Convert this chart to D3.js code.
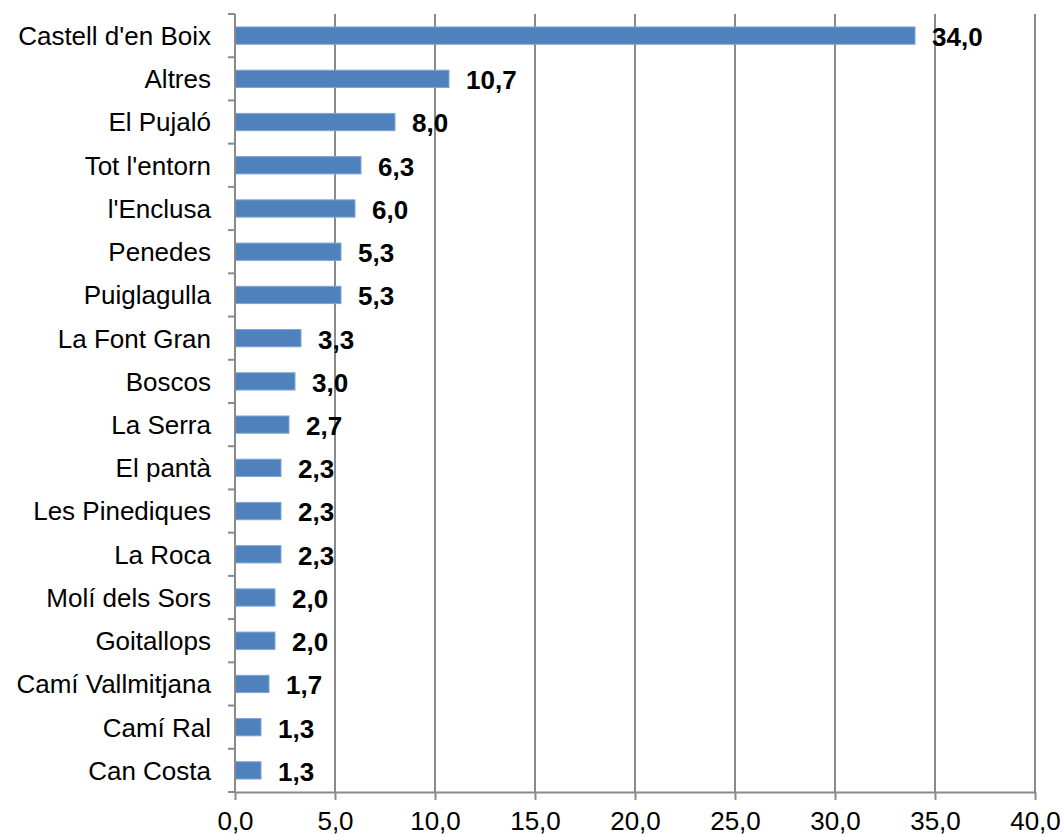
<!DOCTYPE html>
<html>
<head>
<meta charset="utf-8">
<script src="https://cdn.jsdelivr.net/npm/d3@7"></script>
<style>
  html, body { margin: 0; padding: 0; background: #fff; }
  svg { display: block; }
</style>
</head>
<body>
<script>
const categories = ["Castell d'en Boix", "Altres", "El Pujaló", "Tot l'entorn", "l'Enclusa", "Penedes", "Puiglagulla", "La Font Gran", "Boscos", "La Serra", "El pantà", "Les Pinediques", "La Roca", "Molí dels Sors", "Goitallops", "Camí Vallmitjana", "Camí Ral", "Can Costa"];
const values = [34.0, 10.7, 8.0, 6.3, 6.0, 5.3, 5.3, 3.3, 3.0, 2.7, 2.3, 2.3, 2.3, 2.0, 2.0, 1.7, 1.3, 1.3];
const xTicks = [0, 5, 10, 15, 20, 25, 30, 35, 40];

(function () {
const W = 1064, H = 836;
const pLeft = 235, pRight = 1035, pTop = 14, pBottom = 792;
const fmt = v => v.toFixed(1).replace(".", ",");
const font = "Arial, 'Liberation Sans', sans-serif";
const fs = 26;
const gray = "#8a8a8a";

const svg = d3.select("body").append("svg").attr("width", W).attr("height", H);

const x = d3.scaleLinear().domain([0, 40]).range([pLeft, pRight]);
const y = d3.scaleBand().domain(categories).range([pTop, pBottom]).paddingInner(0.6).paddingOuter(0.3);
const yb = d3.scaleBand().domain(categories).range([pTop, pBottom]).padding(0);

// gridlines
svg.append("g").selectAll("line").data(xTicks.slice(1)).join("line")
  .attr("x1", d => x(d)).attr("x2", d => x(d))
  .attr("y1", pTop).attr("y2", pBottom)
  .attr("stroke", gray).attr("stroke-width", 2);

// bars
svg.append("g").selectAll("rect").data(values).join("rect")
  .attr("x", x(0))
  .attr("y", (d, i) => y(categories[i]))
  .attr("width", d => x(d) - x(0))
  .attr("height", y.bandwidth())
  .attr("fill", "#4f81bd")
  .attr("stroke", "#7fa6d6").attr("stroke-width", 1);

// x axis
const xAxis = d3.axisBottom(x).tickValues(xTicks).tickFormat(fmt).tickSizeInner(8).tickSizeOuter(0);
const gx = svg.append("g").attr("transform", `translate(0,${pBottom})`).call(xAxis);
gx.select(".domain").attr("stroke", gray).attr("stroke-width", 2);
gx.selectAll(".tick line").attr("stroke", gray).attr("stroke-width", 2);
gx.selectAll(".tick text").attr("font-family", font).attr("font-size", fs).attr("fill", "#000").attr("dy", 0).attr("y", 38);

// y axis line
svg.append("line").attr("x1", pLeft).attr("x2", pLeft).attr("y1", pTop).attr("y2", pBottom)
  .attr("stroke", gray).attr("stroke-width", 2);
// y ticks at band boundaries
const boundaries = categories.map(c => yb(c)).concat([pBottom]);
svg.append("g").selectAll("line").data(boundaries).join("line")
  .attr("x1", pLeft - 7).attr("x2", pLeft)
  .attr("y1", d => d).attr("y2", d => d)
  .attr("stroke", gray).attr("stroke-width", 2);

// category labels
svg.append("g").selectAll("text").data(categories).join("text")
  .attr("x", 211)
  .attr("y", d => yb(d) + yb.bandwidth() / 2)
  .attr("dy", "0.36em")
  .attr("text-anchor", "end")
  .attr("font-family", font).attr("font-size", fs).attr("fill", "#000")
  .text(d => d);

// value labels
svg.append("g").selectAll("text").data(values).join("text")
  .attr("x", d => x(d) + 17)
  .attr("y", (d, i) => yb(categories[i]) + yb.bandwidth() / 2 + 1)
  .attr("dy", "0.36em")
  .attr("font-family", font).attr("font-size", fs).attr("font-weight", "bold").attr("fill", "#000")
  .text(d => fmt(d));
})();
</script>
</body>
</html>
